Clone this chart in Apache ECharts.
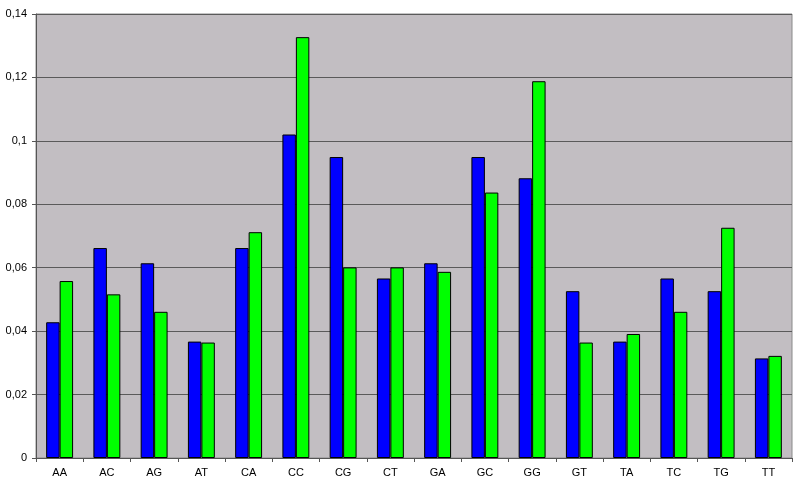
<!DOCTYPE html>
<html>
<head>
<meta charset="utf-8">
<script src="https://cdn.jsdelivr.net/npm/echarts@6/dist/echarts.min.js"></script>
<style>html,body{margin:0;padding:0;background:#fff;}#c{width:800px;height:486px;}</style>
</head>
<body>
<div id="c"></div>
<script>
var categories = ['AA','AC','AG','AT','CA','CC','CG','CT','GA','GC','GG','GT','TA','TC','TG','TT'];
var blueValues = [0.0428,0.0662,0.0614,0.0367,0.0662,0.1020,0.0949,0.0566,0.0614,0.0949,0.0882,0.0526,0.0367,0.0566,0.0526,0.0314];
var greenValues = [0.0558,0.0516,0.0461,0.0364,0.0712,0.1327,0.0601,0.0601,0.0587,0.0837,0.1188,0.0364,0.0391,0.0461,0.0726,0.0322];

var chart = echarts.init(document.getElementById('c'), null, {renderer:'canvas'});
chart.setOption({
  animation: false,
  backgroundColor: '#ffffff',
  grid: {left: 36, right: 8, top: 14, bottom: 28, show: true, backgroundColor: '#c2bec2', borderColor: '#8a8a8a', borderWidth: 1},
  xAxis: {
    type: 'category',
    data: categories,
    axisLine: {lineStyle: {color: '#555555', width: 1}},
    axisTick: {show: true, length: 4, lineStyle: {color: '#555555'}},
    axisLabel: {color: '#000', fontFamily: 'Liberation Sans, Arial', fontSize: 11, margin: 9},
    splitLine: {show: false}
  },
  yAxis: {
    type: 'value',
    min: 0, max: 0.14, interval: 0.02,
    axisLine: {show: true, lineStyle: {color: '#555555', width: 1}},
    axisTick: {show: true, length: 4, lineStyle: {color: '#555555'}},
    axisLabel: {color: '#000', fontFamily: 'Liberation Sans, Arial', fontSize: 11, margin: 9,
      formatter: function(v){ return String(Math.round(v*100)/100).replace('.', ','); }},
    splitLine: {show: true, lineStyle: {color: '#5a5a5a', width: 1}}
  },
  series: [
    {type: 'bar', data: blueValues, barGap: '0%', barCategoryGap: '43%',
     itemStyle: {color: '#0000ff', borderColor: '#000', borderWidth: 1}},
    {type: 'bar', data: greenValues, barGap: '0%', barCategoryGap: '43%',
     itemStyle: {color: '#00ff00', borderColor: '#000', borderWidth: 1}}
  ]
});
</script>
</body>
</html>
